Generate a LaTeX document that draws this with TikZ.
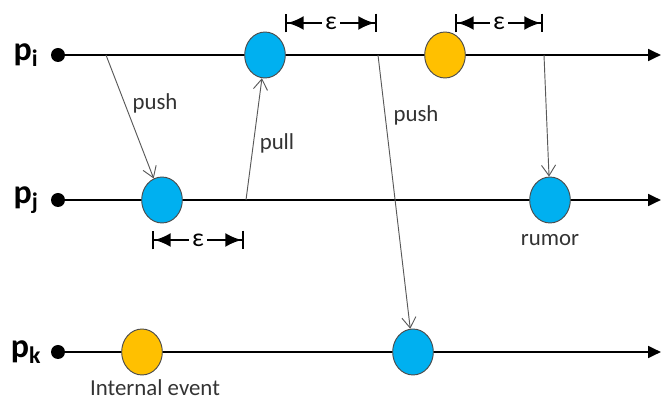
\documentclass[tikz,border=0pt]{standalone}
\usepackage{fontspec}
\setmainfont{Carlito}
\usetikzlibrary{arrows.meta,shapes.geometric,positioning}

\definecolor{evblue}{HTML}{00B0F0}
\definecolor{evorange}{HTML}{FFC000}

\tikzset{
  event/.style={ellipse, draw=black!70, line width=0.8pt, minimum width=1.22cm, minimum height=1.38cm, inner sep=0pt},
  procdot/.style={circle, fill=black, minimum size=0.42cm, inner sep=0pt},
  timeline/.style={line width=2pt, -{Triangle[length=11pt,width=10pt]}},
  msg/.style={draw=black!65, line width=0.8pt, -{Straight Barb[length=9pt,width=12pt]}},
  epsbar/.style={line width=2pt, {Bar[width=16pt]Latex[length=14pt,width=12pt]}-{Latex[length=14pt,width=12pt]Bar[width=16pt]}},
  lbl/.style={font=\fontsize{19.5}{22}\selectfont, text=black!80, inner sep=0pt},
  proc/.style={font=\fontsize{29}{30}\selectfont\bfseries, inner sep=0pt}
}

\newcommand*{\PlaceEvents}[1]{% #1 = list of x/y/fill/name
  \foreach \x/\y/\evfill/\name in {#1} {
    \node [event, fill=\evfill] (\name) at (\x,\y) {};
    }%
}

\begin{document}
\begin{tikzpicture}[x=0.03cm,y=-0.03cm]
    \useasboundingbox (0,0) rectangle (661,403);

    % processes
    \foreach \p/\y in {i/55,j/200,k/352} {
        \node [proc] (lab\p) at (26,\y) {p\textsubscript{\p}};
        \node [procdot] (dot\p) at (58,\y) {};
        \coordinate (end\p) at (661,\y);
        \draw [timeline] (dot\p.center) -- (end\p);
    }

    \PlaceEvents{265/55/evblue/ei1,
                 445/55/evorange/ei2,
                 162/200/evblue/ej1,
                 550/200/evblue/ej2,
                 142/352/evorange/ek1,
                 413/352/evblue/ek2}

    % messages
    \coordinate (push1) at (106,55);
    \coordinate (pull1) at (246,200);
    \coordinate (push2) at (378,55);
    \coordinate (send3) at (544,55);
    \draw [msg] (push1) -- (ej1);
    \draw [msg] (pull1) -- (ei1);
    \draw [msg] (push2) -- (ek2);
    \draw [msg] (send3) -- (ej2);

    \node [lbl] (tpush1) at (155,103) {push};
    \node [lbl] (tpull) at (277,143) {pull};
    \node [lbl] (tpush2) at (416,115) {push};
    \node [lbl] (trumor) at (550,240) {rumor};
    \node [lbl] (tinternal) at (155,388) {Internal event};

    % epsilon intervals
    \foreach \a/\b/\y in {285/377/23,455/543/23,152/244/240} {
        \draw [epsbar] (\a,\y) -- (\b,\y)
            node [midway, fill=white, inner xsep=3pt, inner ysep=0pt, font=\fontsize{22}{22}\selectfont] {ε};
    }
\end{tikzpicture}
\end{document}
